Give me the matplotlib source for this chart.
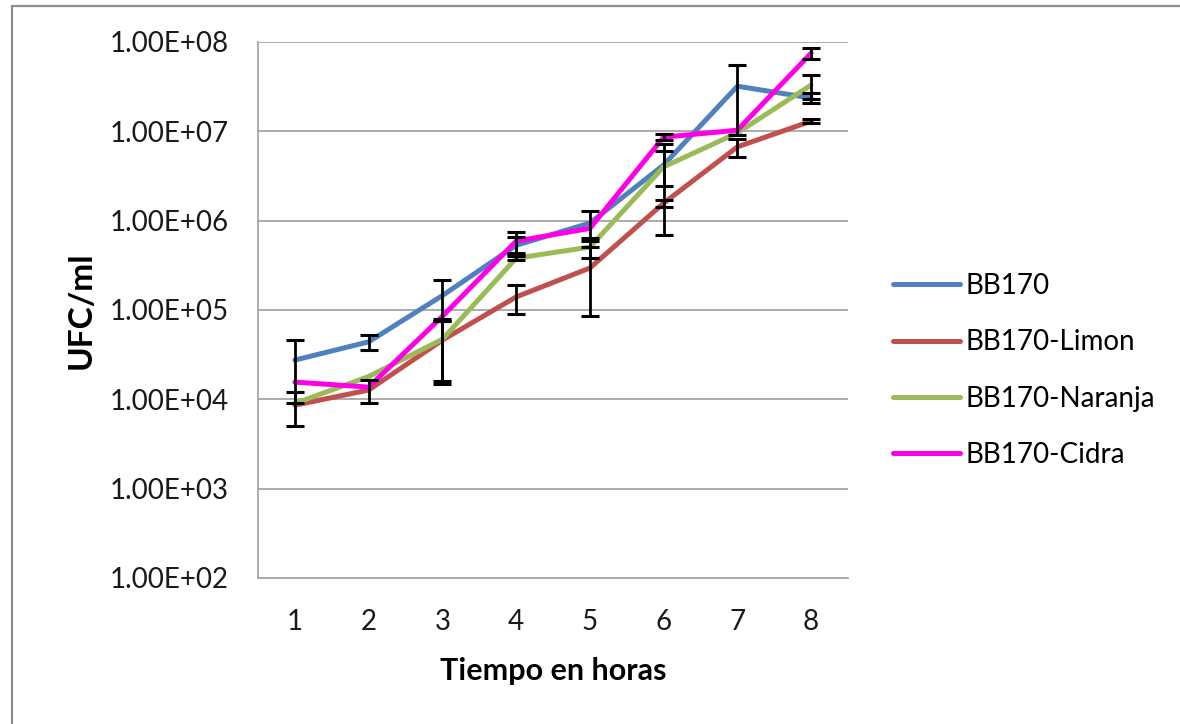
import matplotlib
matplotlib.use("Agg")
import matplotlib.pyplot as plt
from matplotlib.patches import Rectangle
from matplotlib.ticker import FixedLocator, FuncFormatter, NullLocator

# Recuento de UFC/ml a lo largo del tiempo (media +/- desviacion, 0 = sin barra)
horas = [1, 2, 3, 4, 5, 6, 7, 8]

bb170 = [2.75e4, 4.4e4, 1.45e5, 5.3e5, 9.4e5, 4.2e6, 3.2e7, 2.36e7]
bb170_err = [1.85e4, 8.4e3, 7.0e4, 1.2e5, 3.5e5, 1.76e6, 2.3e7, 3.0e6]

limon = [8.6e3, 1.27e4, 4.6e4, 1.4e5, 2.95e5, 1.57e6, 6.7e6, 1.3e7]
limon_err = [3.6e3, 3.6e3, 3.0e4, 5.0e4, 2.1e5, 1.5e5, 1.55e6, 7.0e5]

naranja = [9.0e3, 1.8e4, 4.7e4, 3.8e5, 5.06e5, 4.0e6, 9.6e6, 3.3e7]
naranja_err = [0, 0, 3.2e4, 2.0e4, 1.26e5, 3.3e6, 0, 9.7e6]

cidra = [1.56e4, 1.37e4, 8.5e4, 5.9e5, 8.2e5, 8.6e6, 1.03e7, 7.5e7]
cidra_err = [0, 0, 0, 1.5e5, 0, 7.0e5, 0, 1.1e7]

series = [
    ("BB170", bb170, bb170_err, "#4F81BD"),
    ("BB170-Limon", limon, limon_err, "#C0504D"),
    ("BB170-Naranja", naranja, naranja_err, "#9BBB59"),
    ("BB170-Cidra", cidra, cidra_err, "#FF00E6"),
]

plt.rcParams['font.family'] = ['Lato', 'DejaVu Sans']

fig = plt.figure(figsize=(11.8, 7.24), dpi=100)
ax = fig.add_axes([258 / 1180, 1 - 578 / 724, 590 / 1180, 536 / 724])

for name, vals, err, col in series:
    ax.plot(horas, vals, color=col, lw=3.6, label=name, zorder=3,
            solid_capstyle='round')
for name, vals, err, col in series:
    idx = [i for i, e in enumerate(err) if e > 0]
    ax.errorbar([horas[i] for i in idx], [vals[i] for i in idx],
                yerr=[err[i] for i in idx], fmt='none', ecolor='black',
                elinewidth=2.0, capsize=6.5, capthick=2.2, zorder=4)

ax.set_yscale('log')
ax.set_ylim(1e2, 1e8)
ax.set_xlim(0.5, 8.5)
ax.yaxis.set_major_locator(FixedLocator([10.0 ** k for k in range(2, 9)]))
ax.yaxis.set_minor_locator(NullLocator())
ax.yaxis.set_major_formatter(FuncFormatter(lambda v, p: f"{v:.2E}"))
ax.set_xticks(horas)

ax.grid(axis='y', color='#a6a6a6', lw=1.3, zorder=0)
ax.set_axisbelow(True)
for s in ['top', 'right']:
    ax.spines[s].set_visible(False)
for s in ['left', 'bottom']:
    ax.spines[s].set_color('#a6a6a6')
    ax.spines[s].set_linewidth(1.3)

ax.tick_params(axis='y', length=0, pad=21, labelsize=20, labelcolor='#1a1a1a')
ax.tick_params(axis='x', length=0, pad=22, labelsize=20, labelcolor='#1a1a1a')

ax.set_ylabel("UFC/ml", fontsize=24, fontweight='bold', labelpad=10)
ax.set_xlabel("Tiempo en horas", fontsize=22, fontweight='bold', labelpad=16)

ax.legend(loc='upper left', bbox_to_anchor=(893 / 1180, 1 - 273 / 724),
          bbox_transform=fig.transFigure, frameon=False, fontsize=20,
          handlelength=2.4, handletextpad=0.2, labelspacing=1.09,
          borderpad=0, borderaxespad=0)

# borde gris del area del grafico
fig.patches.append(Rectangle((12 / 1180, -0.5), 2.0, 1.5 - 6 / 724,
                             transform=fig.transFigure, fill=False,
                             edgecolor='#8c8c8c', lw=1.6))

fig.savefig("out.png", dpi=100)
